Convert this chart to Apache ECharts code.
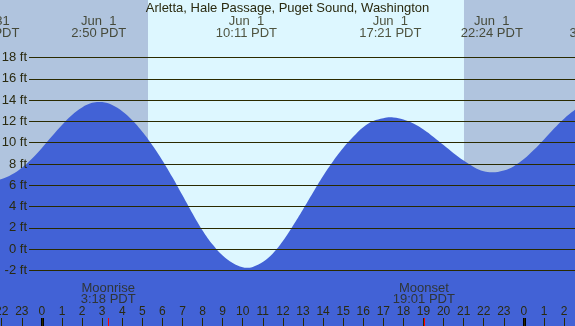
<!DOCTYPE html>
<html>
<head>
<meta charset="utf-8">
<script src="https://cdn.jsdelivr.net/npm/echarts@6/dist/echarts.min.js"></script>
<style>
html,body{margin:0;padding:0;background:#B0C4DE;}
#c{width:575px;height:326px;}
</style>
</head>
<body>
<div id="c"></div>
<script>
// ---- data (hours from midnight, Jun 1, PDT) ----
const titleText = 'Arletta, Hale Passage, Puget Sound, Washington';
const tideHours = [-2.5, -2.0, -1.5, -1.0, -0.5, 0.0, 0.5, 1.0, 1.5, 2.0, 2.5, 2.833, 3.0, 3.5, 4.0, 4.5, 5.0, 5.5, 6.0, 6.5, 7.0, 7.5, 8.0, 8.5, 9.0, 9.5, 10.0, 10.183, 10.5, 11.0, 11.5, 12.0, 12.5, 13.0, 13.5, 14.0, 14.5, 15.0, 15.5, 16.0, 16.5, 17.0, 17.35, 17.5, 18.0, 18.5, 19.0, 19.5, 20.0, 20.5, 21.0, 21.5, 22.0, 22.4, 23.0, 23.5, 24.0, 24.5, 25.0, 25.5, 26.0, 26.5, 27.0, 27.5];
const tideFeet  = [6.41, 6.6, 7.01, 7.65, 8.5, 9.51, 10.6, 11.66, 12.6, 13.31, 13.74, 13.83, 13.81, 13.54, 12.95, 12.1, 11.02, 9.76, 8.34, 6.76, 5.07, 3.36, 1.76, 0.44, -0.58, -1.29, -1.7, -1.75, -1.66, -1.2, -0.4, 0.77, 2.2, 3.73, 5.32, 6.87, 8.27, 9.5, 10.55, 11.45, 12.03, 12.3, 12.38, 12.37, 12.18, 11.8, 11.24, 10.54, 9.78, 9.02, 8.32, 7.72, 7.31, 7.22, 7.39, 7.8, 8.46, 9.33, 10.31, 11.33, 12.26, 13.03, 13.55, 13.82];
const extremeHours = [-2.667, 2.833, 10.183, 17.35, 22.4, 27.633];
const extremeLabels = ['May 31\n21:20 PDT', 'Jun  1\n2:50 PDT', 'Jun  1\n10:11 PDT', 'Jun  1\n17:21 PDT', 'Jun  1\n22:24 PDT', 'Jun  2\n3:38 PDT'];
const moonHours = [3.3, 19.017];
const moonLabels = ['Moonrise\n3:18 PDT', 'Moonset\n19:01 PDT'];
const sunriseHour = 5.283;
const sunsetHour = 21.017;
const midnightHours = [0, 24];
const yTicks = [-2, 0, 2, 4, 6, 8, 10, 12, 14, 16, 18];
const hourTicks = [-2, -1, 0, 1, 2, 3, 4, 5, 6, 7, 8, 9, 10, 11, 12, 13, 14, 15, 16, 17, 18, 19, 20, 21, 22, 23, 24, 25, 26];

// ---- styling / layout ----
const FONT = '"Liberation Sans", Arial, sans-serif';
const TXT = '#2a2a10';
const LINE = '#2a2a00';
const BLUE = '#4262d6';
const DAY = '#DDF7FF';
const NIGHT = '#B0C4DE';
const X_MIN = -2.0863, X_MAX = 26.545;
const Y_MIN = -7.211, Y_MAX = 23.399;
const GRID_START = -0.64;
const TICK_TOP = -6.46;
const EXTREME_LABEL_Y = 20.82;
const MOON_LABEL_Y = -4.2;

const tideData = tideHours.map((h, i) => [h, tideFeet[i]]);
const gridLines = yTicks.map(v => [{coord: [GRID_START, v]}, {coord: [X_MAX, v]}]);
const midLines = midnightHours.map(h => [{coord: [h, TICK_TOP]}, {coord: [h, Y_MIN]}]);
const moonLines = moonHours.map(h => [{coord: [h, TICK_TOP]}, {coord: [h, Y_MIN]}]);

const chart = echarts.init(document.getElementById('c'), null, {renderer: 'canvas'});
chart.setOption({
  animation: false,
  backgroundColor: NIGHT,
  title: {
    text: titleText, left: 'center', top: 2, padding: 0,
    textStyle: {fontSize: 13, fontWeight: 'normal', color: TXT, fontFamily: FONT}
  },
  grid: {left: 0, right: 0, top: 0, bottom: 0, containLabel: false, outerBoundsMode: 'none'},
  xAxis: {
    type: 'value', min: X_MIN, max: X_MAX, z: 10,
    axisLine: {show: false, onZero: false}, splitLine: {show: false},
    axisTick: {show: true, inside: true, length: 8, lineStyle: {color: LINE, width: 1}, customValues: hourTicks},
    axisLabel: {
      show: true, inside: true, margin: 14, customValues: hourTicks,
      formatter: v => String(((Math.round(v) % 24) + 24) % 24),
      fontSize: 12, color: TXT, fontFamily: FONT, verticalAlign: 'middle'
    }
  },
  yAxis: {
    type: 'value', min: Y_MIN, max: Y_MAX, z: 10,
    axisLine: {show: false, onZero: false}, splitLine: {show: false}, axisTick: {show: false},
    axisLabel: {
      show: true, inside: true, margin: 27, align: 'right', customValues: yTicks,
      formatter: '{value} ft', fontSize: 13, color: TXT, fontFamily: FONT
    }
  },
  series: [
    {
      name: 'daylight', type: 'line', z: 1, silent: true,
      data: [[sunriseHour, 0], [sunsetHour, 0]],
      showSymbol: false, lineStyle: {opacity: 0},
      markArea: {
        silent: true,
        itemStyle: {color: DAY, opacity: 1},
        data: [[{coord: [sunriseHour, Y_MIN]}, {coord: [sunsetHour, Y_MAX]}]]
      }
    },
    {
      name: 'tide', type: 'line', z: 2, silent: true,
      data: tideData, smooth: 0.4, showSymbol: false,
      lineStyle: {opacity: 0, width: 0},
      areaStyle: {color: BLUE, opacity: 1, origin: 'start'}
    },
    {
      name: 'grid', type: 'line', z: 3, silent: true, data: [],
      markLine: {
        silent: true, symbol: ['none', 'none'], label: {show: false},
        lineStyle: {color: LINE, width: 1, type: 'solid'},
        data: gridLines
      }
    },
    {
      name: 'midnight', type: 'line', z: 4, silent: true, data: [],
      markLine: {
        silent: true, symbol: ['none', 'none'], label: {show: false},
        lineStyle: {color: '#000000', width: 3, type: 'solid'},
        data: midLines
      }
    },
    {
      name: 'moonTicks', type: 'line', z: 4, silent: true, data: [],
      markLine: {
        silent: true, symbol: ['none', 'none'], label: {show: false},
        lineStyle: {color: '#ff0000', width: 1, type: 'solid'},
        data: moonLines
      }
    },
    {
      name: 'extremes', type: 'scatter', z: 5, silent: true, clip: false,
      symbolSize: 1, itemStyle: {color: 'transparent'},
      data: extremeHours.map((h, i) => ({value: [h, EXTREME_LABEL_Y], label: {formatter: extremeLabels[i]}})),
      label: {show: true, position: 'inside', fontSize: 13, lineHeight: 12, color: TXT, fontFamily: FONT, align: 'center', verticalAlign: 'middle'}
    },
    {
      name: 'moon', type: 'scatter', z: 5, silent: true, clip: false,
      symbolSize: 1, itemStyle: {color: 'transparent'},
      data: moonHours.map((h, i) => ({value: [h, MOON_LABEL_Y], label: {formatter: moonLabels[i]}})),
      label: {show: true, position: 'inside', fontSize: 13, lineHeight: 11, color: TXT, fontFamily: FONT, align: 'center', verticalAlign: 'middle'}
    }
  ]
});
</script>
</body>
</html>
